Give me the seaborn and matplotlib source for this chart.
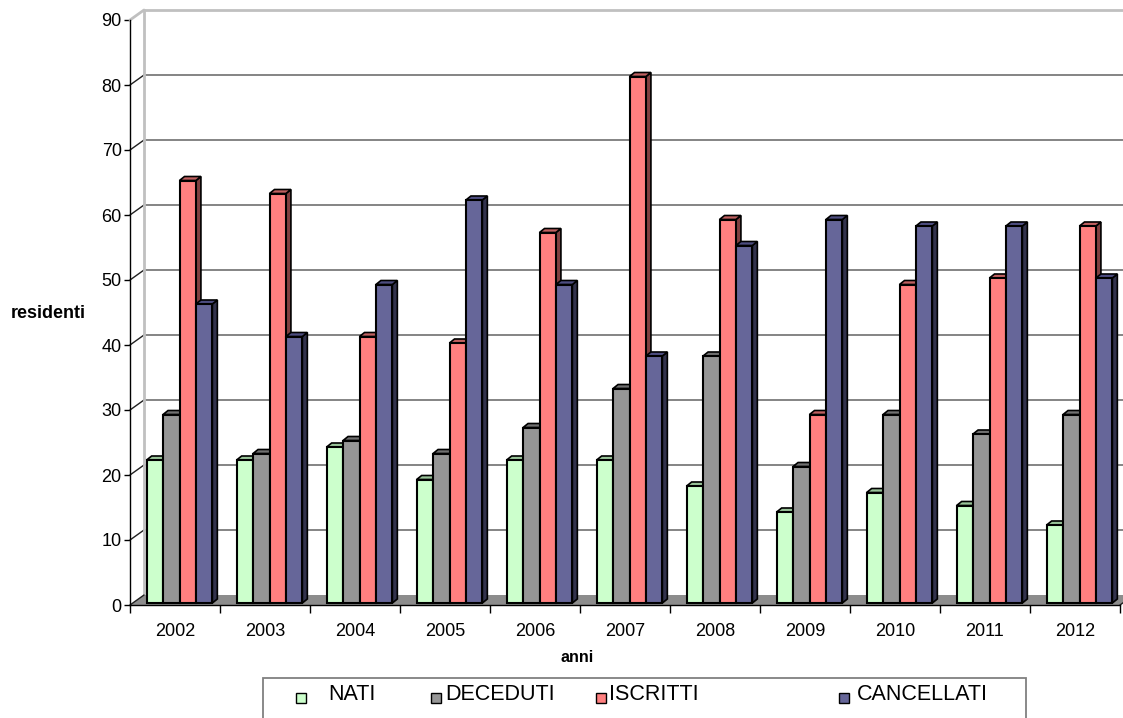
import matplotlib
matplotlib.use("Agg")
import matplotlib.pyplot as plt
import matplotlib.transforms as mtransforms
from matplotlib.patches import Polygon, Rectangle
import numpy as np
import pandas as pd
import seaborn as sns

# ---- data -------------------------------------------------------------
anni = ["2002", "2003", "2004", "2005", "2006", "2007",
        "2008", "2009", "2010", "2011", "2012"]
serie = ["NATI", "DECEDUTI", "ISCRITTI", "CANCELLATI"]
nati = [22, 22, 24, 19, 22, 22, 18, 14, 17, 15, 12]
deceduti = [29, 23, 25, 23, 27, 33, 38, 21, 29, 26, 29]
iscritti = [65, 63, 41, 40, 57, 81, 59, 29, 49, 50, 58]
cancellati = [46, 41, 49, 62, 49, 38, 55, 59, 58, 58, 50]
y_ticks = list(range(0, 100, 10))

# ---- colours (front, side, top) ----------------------------------------
front = ["#CCFFCC", "#969696", "#FF8080", "#666699"]
side = ["#668066", "#4B4B4B", "#804040", "#33334D"]
top = ["#99C499", "#707070", "#C06060", "#4D4D80"]

df = pd.DataFrame({
    "anno": np.repeat(anni, len(serie)),
    "serie": serie * len(anni),
    "valore": np.ravel(np.column_stack([nati, deceduti, iscritti, cancellati])),
})

sns.set_theme(style="white")
plt.rcParams["font.family"] = ["Liberation Sans", "DejaVu Sans"]
plt.rcParams["text.color"] = "black"
plt.rcParams["axes.labelcolor"] = "black"
plt.rcParams["xtick.color"] = "black"
plt.rcParams["ytick.color"] = "black"

W, H = 1123, 718
fig = plt.figure(figsize=(W / 100, H / 100), dpi=100)
fig.patch.set_facecolor("white")

# axes: front plane of the chart
x0_px, x1_px, y0_px, y1_px = 130, 1120, 605, 20
ax = fig.add_axes([x0_px / W, (H - y0_px) / H, (x1_px - x0_px) / W, (y0_px - y1_px) / H])
ax.set_facecolor("none")

sns.barplot(data=df, x="anno", y="valore", hue="serie", hue_order=serie,
            palette=front, width=0.73, edgecolor="black", linewidth=1.5,
            saturation=1, legend=False, ax=ax, zorder=3)

ax.set_xlim(-0.5, len(anni) - 0.5)
ax.set_ylim(0, 90)

# pixel -> data unit conversion
ppx = (x1_px - x0_px) / (len(anni))      # px per category
ppy = (y0_px - y1_px) / 90.0             # px per unit value
wall_dx, wall_dy = 14 / ppx, 10 / ppy    # depth of the back wall
bar_dx, bar_dy = 5 / ppx, 4 / ppy        # depth of each bar

# ---- walls and floor ---------------------------------------------------
xl, xr = -0.5, len(anni) - 0.5
grid_col = "#707070"
wall_col = "#C0C0C0"
for v in y_ticks[1:-1]:
    ax.plot([xl + wall_dx, xr + wall_dx], [v + wall_dy, v + wall_dy],
            color=grid_col, lw=1.2, clip_on=False, zorder=1)
    ax.plot([xl, xl + wall_dx], [v, v + wall_dy],
            color="#202020", lw=1.0, clip_on=False, zorder=1)
# top edge of back wall and left wall
ax.plot([xl + wall_dx, xr + wall_dx], [90 + wall_dy, 90 + wall_dy],
        color=wall_col, lw=2.0, clip_on=False, zorder=1)
ax.plot([xl + wall_dx, xl + wall_dx], [wall_dy, 90 + wall_dy],
        color=wall_col, lw=2.0, clip_on=False, zorder=1)
ax.plot([xl, xl + wall_dx], [90, 90 + wall_dy],
        color=wall_col, lw=2.0, clip_on=False, zorder=1)

floor = Polygon([(xl, 0), (xr, 0), (xr + wall_dx, wall_dy), (xl + wall_dx, wall_dy)],
                closed=True, facecolor="#8C8C8C", edgecolor="none",
                clip_on=False, zorder=1.5)
ax.add_patch(floor)
ax.plot([xl, xl + wall_dx], [0, wall_dy], color="#202020", lw=1.0,
        clip_on=False, zorder=1.6)
ax.plot([xr, xr + wall_dx], [0, wall_dy], color="#202020", lw=1.0,
        clip_on=False, zorder=1.6)

# ---- 3D bars: shift the front faces and add side / top faces ----------
bar_tr = mtransforms.offset_copy(ax.transData, fig=fig, x=4.5, y=2, units="dots")
nb = len(serie)
for rect in list(ax.patches):
    if not isinstance(rect, Rectangle) or rect is floor:
        continue
    bx, bw, bh = rect.get_x(), rect.get_width(), rect.get_height()
    if bw <= 0 or bh <= 0:
        continue
    cat = int(round(bx + bw / 2))
    k = int(round((bx + bw / 2 - cat) / bw + (nb - 1) / 2))
    k = max(0, min(nb - 1, k))
    z = 3 + k * 0.1
    rect.set_transform(bar_tr)
    rect.set_zorder(z + 0.05)
    xa, xb = bx, bx + bw
    side_poly = Polygon([(xb, 0), (xb + bar_dx, bar_dy), (xb + bar_dx, bh + bar_dy), (xb, bh)],
                        closed=True, facecolor=side[k], edgecolor="black",
                        lw=1.2, transform=bar_tr, zorder=z + 0.02)
    top_poly = Polygon([(xa, bh), (xb, bh), (xb + bar_dx, bh + bar_dy), (xa + bar_dx, bh + bar_dy)],
                       closed=True, facecolor=top[k], edgecolor="black",
                       lw=1.2, transform=bar_tr, zorder=z + 0.02)
    ax.add_patch(side_poly)
    ax.add_patch(top_poly)

# ---- axes styling -------------------------------------------------------
for s in ["top", "right"]:
    ax.spines[s].set_visible(False)
for s in ["left", "bottom"]:
    ax.spines[s].set_color("black")
    ax.spines[s].set_linewidth(1.0)
    ax.spines[s].set_zorder(2)

ax.set_yticks(y_ticks)
ax.set_yticklabels([str(v) for v in y_ticks], fontsize=13)
ax.tick_params(axis="y", length=4, width=1.0, color="black", pad=2,
               left=True, labelcolor="black")
ax.set_xticks(range(len(anni)))
ax.set_xticklabels(anni, fontsize=13)
ax.set_xticks(np.arange(-0.5, len(anni), 1.0), minor=True)
ax.tick_params(axis="x", which="major", length=0, pad=13, labelcolor="black")
ax.tick_params(axis="x", which="minor", length=6, width=1.0, color="black",
               bottom=True)
ax.grid(False)
ax.set_xlabel("")
ax.set_ylabel("")

fig.text(577 / W, 1 - 657 / H, "anni", fontsize=11.5, fontweight="bold",
         ha="center", va="center", color="black")
fig.text(48 / W, 1 - 313 / H, "residenti", fontsize=13, fontweight="bold",
         ha="center", va="center", color="black")

# ---- legend box at the bottom -----------------------------------------
fig.patches.append(Rectangle((263 / W, -0.02), (1026 - 263) / W, (0.02 + 1 - 678 / H),
                             transform=fig.transFigure, facecolor="white",
                             edgecolor="#808080", lw=1.3, zorder=5))
leg_sq = [296, 431, 596, 839]
leg_tx = [328, 445, 609, 857]
for i, name in enumerate(serie):
    fig.patches.append(Rectangle((leg_sq[i] / W, 1 - 703 / H), 10 / W, 10 / H,
                                 transform=fig.transFigure, facecolor=front[i],
                                 edgecolor="black", lw=1.0, zorder=6))
    fig.text(leg_tx[i] / W, 1 - 694 / H, name, fontsize=15.5, color="black",
             ha="left", va="center", zorder=7)

fig.savefig("out.png", dpi=100, facecolor="white")
